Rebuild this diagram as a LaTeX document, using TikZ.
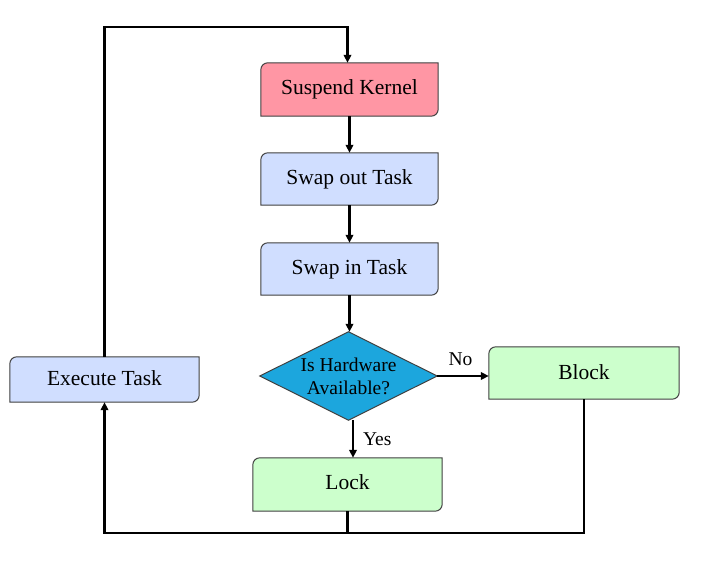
\documentclass[tikz,border=0pt]{standalone}
\usepackage{fontspec}
\setmainfont{Liberation Serif}
\newfontfamily\tmsfont{Liberation Serif}
\usetikzlibrary{arrows.meta,calc}
\pgfdeclarelayer{background}
\pgfsetlayers{background,main}
\definecolor{pinkc}{HTML}{FF96A4}
\definecolor{bluec}{HTML}{D0DEFF}
\definecolor{greenc}{HTML}{CCFFCC}
\definecolor{diac}{HTML}{1CA6DD}
\definecolor{edgec}{HTML}{404040}
\newcommand{\rshape}[2]{%
  \begin{pgfonlayer}{background}
  \draw[boxline,fill=#2] (#1.south west) -- ([yshift=-7pt]#1.north west)
    arc[start angle=180,end angle=90,radius=7pt] -- (#1.north east)
    -- ([yshift=7pt]#1.south east) arc[start angle=0,end angle=-90,radius=7pt] -- cycle;
  \end{pgfonlayer}}
\tikzset{
  boxline/.style={draw=edgec,line width=1pt},
  flowbox/.style={inner sep=0pt,font=\tmsfont\fontsize{21.5}{24}\selectfont},
  arr/.style={line width=2.2pt,-{Triangle[length=8pt,width=7.5pt]}},
  conn/.style={line width=2.2pt},
  lbl/.style={font=\tmsfont\fontsize{19.5}{22}\selectfont,inner sep=0pt}
}
\begin{document}
\begin{tikzpicture}[x=1pt,y=1pt]
\useasboundingbox (0,0) rectangle (705,-564);
\node[flowbox,minimum width=177pt,minimum height=53pt] (sk) at (349.5,-89.5) {Suspend Kernel};
\rshape{sk}{pinkc}
\node[flowbox,minimum width=177pt,minimum height=52pt] (so) at (349.5,-179) {Swap out Task};
\rshape{so}{bluec}
\node[flowbox,minimum width=177pt,minimum height=52pt] (si) at (349.5,-269) {Swap in Task};
\rshape{si}{bluec}
\node[inner sep=0pt,minimum width=177pt,minimum height=88pt,align=center,
  font=\tmsfont\fontsize{19.5}{23}\selectfont] (dia) at (348.5,-376) {Is Hardware\\Available?};
\begin{pgfonlayer}{background}
\draw[boxline,fill=diac] (dia.west) -- (dia.north) -- (dia.east) -- (dia.south) -- cycle;
\end{pgfonlayer}
\node[flowbox,minimum width=190pt,minimum height=52pt] (blk) at (584,-373) {\raisebox{2pt}{Block}};
\rshape{blk}{greenc}
\node[flowbox,minimum width=189pt,minimum height=53pt] (lock) at (347.5,-484.5) {\raisebox{5pt}{Lock}};
\rshape{lock}{greenc}
\node[flowbox,minimum width=189pt,minimum height=45pt] (exec) at (104.5,-379.5) {\raisebox{3pt}{Execute Task}};
\rshape{exec}{bluec}

\coordinate (top) at (0,-27);
\coordinate (bot) at (0,-533);

\draw[arr] (sk.south) -- (so.north);
\draw[arr] (so.south) -- (si.north);
\draw[arr] (si.south) -- (si.south |- dia.north);
\draw[arr] (dia.east) -- (dia.east -| blk.west) node[lbl,pos=0.45,above=9pt] {No};
\draw[arr] ([xshift=4.5pt]dia.south) -- ([xshift=4.5pt]dia.south |- lock.north)
  node[lbl,midway,right=9pt] {Yes};
\draw[conn] (lock.south) -- (lock.south |- bot);
\draw[arr] (blk.south) -- (blk.south |- bot) -- (exec.south |- bot) -- (exec.south);
\draw[arr] (exec.north) -- (exec.north |- top) -- ([xshift=-2pt]sk.north |- top) -- ([xshift=-2pt]sk.north);
\end{tikzpicture}
\end{document}
